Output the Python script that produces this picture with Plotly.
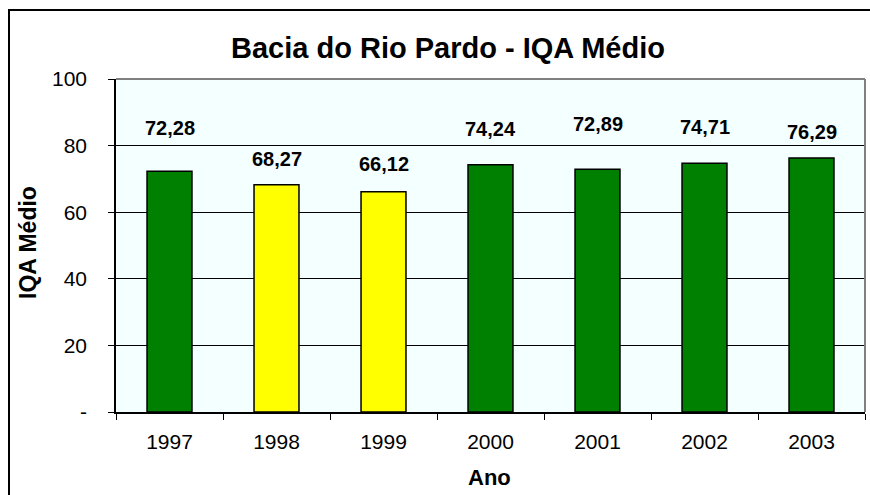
import plotly.graph_objects as go

# IQA médio anual da Bacia do Rio Pardo
anos = ["1997", "1998", "1999", "2000", "2001", "2002", "2003"]
iqa_medio = [72.28, 68.27, 66.12, 74.24, 72.89, 74.71, 76.29]
cores_barras = ["#008000", "#FFFF00", "#FFFF00", "#008000", "#008000", "#008000", "#008000"]

y_ticks = [0, 20, 40, 60, 80, 100]
y_tick_text = ["-", "20", "40", "60", "80", "100"]

# vertical lift (px) of each value label above its bar
label_lift = [43, 26, 28, 36, 45, 36, 26]

W, H = 870, 495
L, R, T, B = 116, 5, 79, 83
pw, ph = W - L - R, H - T - B

def px_x(p):
    return (p - L) / pw

def px_y(p):
    return (H - B - p) / ph

FONT = "Liberation Sans, Arial, sans-serif"

fig = go.Figure(
    go.Bar(
        x=anos,
        y=iqa_medio,
        width=0.42,
        marker=dict(color=cores_barras, line=dict(color="#000000", width=1.5)),
        hoverinfo="skip",
    )
)

# value labels, positioned by category index on the category axis
for i, (v, lift) in enumerate(zip(iqa_medio, label_lift)):
    fig.add_annotation(
        x=i, y=v, yshift=lift, yanchor="middle",
        text=f"<b>{v:.2f}</b>".replace(".", ","),
        showarrow=False, font=dict(family=FONT, size=20, color="#000000"),
    )

# axis titles
fig.add_annotation(
    xref="paper", yref="paper", x=px_x(28), y=px_y(243),
    text="<b>IQA Médio</b>", textangle=-90, showarrow=False,
    xanchor="center", yanchor="middle",
    font=dict(family=FONT, size=23, color="#000000"),
)
fig.add_annotation(
    xref="paper", yref="paper", x=px_x(489), y=px_y(477),
    text="<b>Ano</b>", showarrow=False, xanchor="center", yanchor="middle",
    font=dict(family=FONT, size=22, color="#000000"),
)

# outer chart frame
fig.add_shape(
    type="rect", xref="paper", yref="paper",
    x0=px_x(9), x1=px_x(880), y0=px_y(505), y1=px_y(10),
    line=dict(color="#000000", width=2), layer="below",
)
# plot area border (top and right)
fig.add_shape(
    type="line", xref="paper", yref="paper", x0=0, x1=1, y0=1, y1=1,
    line=dict(color="#808080", width=2),
)
fig.add_shape(
    type="line", xref="paper", yref="paper", x0=1, x1=1, y0=0, y1=1,
    line=dict(color="#808080", width=2),
)

fig.update_layout(
    width=W, height=H,
    margin=dict(l=L, r=R, t=T, b=B),
    paper_bgcolor="#FFFFFF",
    plot_bgcolor="#F4FFFF",
    showlegend=False,
    title=dict(
        text="<b>Bacia do Rio Pardo - IQA Médio</b>",
        x=448 / W, y=1 - 48 / H, xref="container", yref="container",
        xanchor="center", yanchor="middle",
        font=dict(family=FONT, size=29, color="#000000"),
    ),
    font=dict(family=FONT, color="#000000"),
    xaxis=dict(
        type="category",
        categoryorder="array", categoryarray=anos,
        range=[-0.5, len(anos) - 0.5],
        tickson="boundaries",
        ticks="outside", ticklen=6, tickcolor="#000000", tickwidth=1,
        showline=True, linecolor="#000000", linewidth=1.5,
        showgrid=False,
        tickangle=0,
        tickfont=dict(family=FONT, size=21, color="#000000"),
        ticklabelstandoff=10,
    ),
    yaxis=dict(
        range=[0, 100],
        tickvals=y_ticks, ticktext=y_tick_text,
        ticks="outside", ticklen=6, tickcolor="#000000", tickwidth=1,
        showline=True, linecolor="#000000", linewidth=1.5,
        showgrid=True, gridcolor="#000000", gridwidth=1,
        zeroline=False,
        tickfont=dict(family=FONT, size=21, color="#000000"),
        ticklabelstandoff=17,
    ),
)

fig.write_html("out.html")
